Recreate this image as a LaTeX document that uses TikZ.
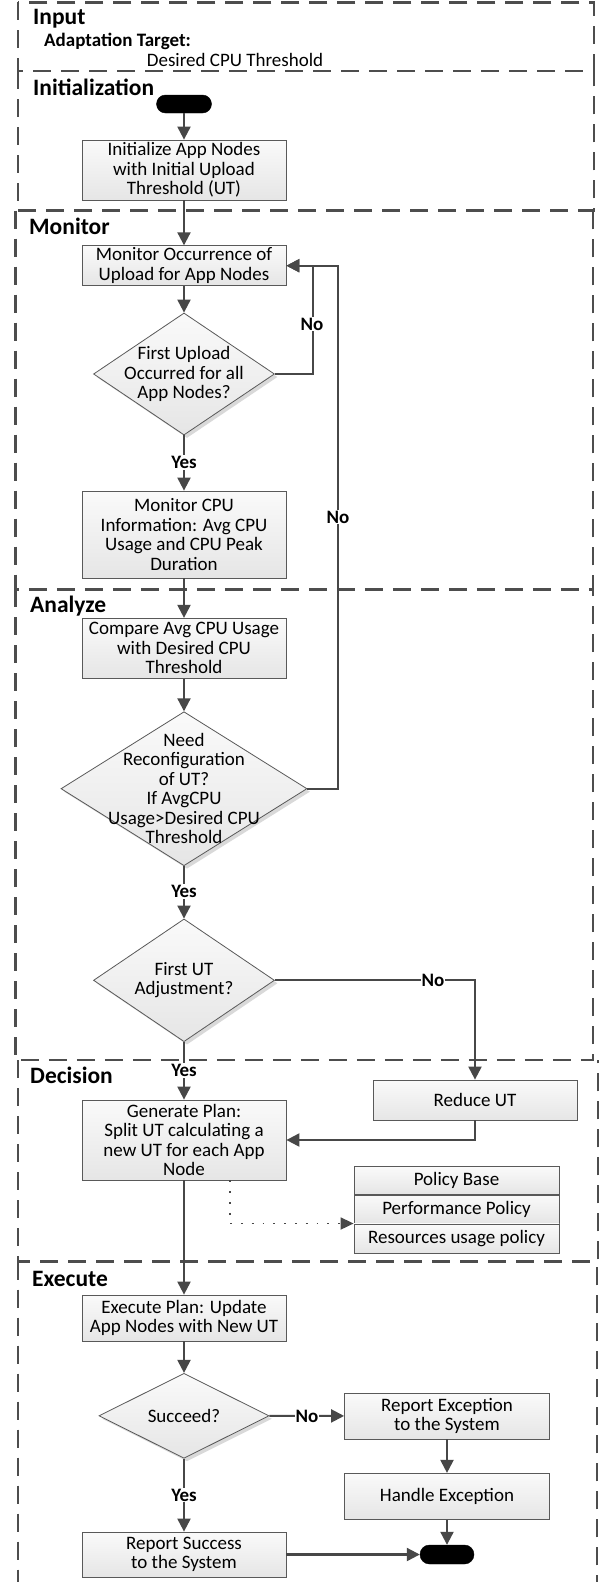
\documentclass[tikz,border=0pt]{standalone}
\usepackage{fontspec}
\setmainfont{Carlito}
\usetikzlibrary{arrows.meta,shapes.geometric,shapes.misc,shadows}
\definecolor{boxc}{HTML}{595959}
\definecolor{arrc}{HTML}{474747}
\definecolor{dashc}{HTML}{4d4d4d}
\newcommand\bodyf{\fontsize{19}{19.5}\selectfont}
\newcommand\bodyb{\fontsize{19}{19.5}\selectfont\bfseries}
\newcommand\titlef{\fontsize{23.5}{25}\selectfont\bfseries}
\begin{document}
\begin{tikzpicture}[x=1pt,y=-1pt,
  box/.style={draw=boxc, line width=0.8pt, top color=gray!4, bottom color=gray!20, inner sep=0pt, align=center, font=\bodyf, minimum width=204pt},
  dia/.style={diamond, draw=boxc, line width=0.8pt, top color=gray!4, bottom color=gray!20, inner sep=0pt, drop shadow={shadow xshift=3pt, shadow yshift=-3pt, fill=gray!30, opacity=1}},
  dtext/.style={font=\bodyf, align=center, inner sep=0pt},
  term/.style={rounded rectangle, fill=black, draw=black, inner sep=0pt, minimum width=55pt, minimum height=18pt},
  arr/.style={draw=arrc, line width=2.1pt, -{Triangle[length=13pt,width=13pt]}},
  lbl/.style={font=\bodyb, fill=white, inner sep=1pt},
  sect/.style={draw=dashc, line width=2.6pt, dash pattern=on 18pt off 10pt},
  stitle/.style={font=\titlef, anchor=base west, inner sep=0pt},
  dotarr/.style={draw=arrc, line width=1.8pt, dash pattern=on 1.8pt off 9pt, -{Triangle[length=13pt,width=12pt]}},
  pol/.style={draw=boxc, line width=0.8pt, top color=gray!4, bottom color=gray!20, inner sep=0pt, font=\bodyf, minimum width=205pt}
]
\useasboundingbox (0,0) rectangle (608,1582);
\fill[white] (0,0) rectangle (608,1582);

% sections (shared borders drawn once)
\draw[sect] (18,2.3) rectangle (594,71);
\draw[sect] (18,71) -- (18,210.7) -- (594,210.7) -- (594,71);
\draw[sect] (15.5,210.7) -- (15.5,589.3) -- (593,589.3) -- (593,210.7);
\draw[sect] (15.5,589.3) -- (15.5,1060) -- (593,1060) -- (593,589.3);
\draw[sect] (18,1060) -- (18,1261.7) -- (598,1261.7) -- (598,1060);
\draw[sect] (18,1261.7) -- (18,1600) -- (597,1600) -- (597,1261.7);

% section titles
\node[stitle] (tin) at (33,24.2) {Input};
\node[font=\bodyb, anchor=base west, inner sep=0pt] (tat) at (44,46) {Adaptation Target:};
\node[font=\bodyf, anchor=base west, inner sep=0pt] (tdc) at (146.7,66) {Desired CPU Threshold};
\node[stitle] (tinit) at (33,95.5) {Initialization};
\node[stitle] (tmon) at (29,234.5) {Monitor};
\node[stitle] (tana) at (30,612.5) {Analyze};
\node[stitle] (tdec) at (30,1083.5) {Decision};
\node[stitle] (texe) at (32,1286.8) {Execute};

% nodes
\node[term] (start) at (184,104) {};
\node[box, minimum height=60pt] (init) at (184,170) {Initialize App Nodes\\with Initial Upload\\Threshold (UT)};
\node[box, minimum height=40pt] (monocc) at (184,265.7) {Monitor Occurrence of\\Upload for App Nodes};
\node[dia, minimum width=181pt, minimum height=122pt] (d1) at (184,374) {};
\node[dtext] (d1t) at (d1) {First Upload\\Occurred for all\\App Nodes?};
\node[box, minimum height=87pt] (moncpu) at (184,534.5) {Monitor CPU\\Information: Avg CPU\\Usage and CPU Peak\\Duration};
\node[box, minimum height=60pt] (compare) at (184,648.3) {Compare Avg CPU Usage\\with Desired CPU\\Threshold};
\node[dia, minimum width=246pt, minimum height=154pt] (d2) at (184,788.7) {};
\node[dtext] (d2t) at (d2) {Need\\Reconfiguration\\of UT?\\If AvgCPU\\Usage>Desired CPU\\Threshold};
\node[dia, minimum width=181pt, minimum height=122.7pt] (d3) at (184,980.3) {};
\node[dtext] (d3t) at (d3) {First UT\\Adjustment?};
\node[box, minimum height=40pt] (reduce) at (475,1100) {Reduce UT};
\node[box, minimum height=80pt] (genplan) at (184,1140) {Generate Plan:\\Split UT calculating a\\new UT for each App\\Node};
\node[pol, minimum height=27.6pt] (pol1) at (456.5,1180.5) {Policy Base};
\node[pol, minimum height=28pt, anchor=north] (pol2) at (pol1.south) {Performance Policy};
\node[pol, minimum height=29.4pt, anchor=north] (pol3) at (pol2.south) {Resources usage policy};
\node[box, minimum height=46pt] (execplan) at (184,1318) {Execute Plan: Update\\App Nodes with New UT};
\node[dia, minimum width=170pt, minimum height=85pt] (d4) at (184,1415.8) {};
\node[dtext] (d4t) at (d4) {Succeed?};
\node[box, minimum width=205pt, minimum height=46pt] (repexc) at (447,1416) {Report Exception\\to the System};
\node[box, minimum width=205pt, minimum height=46pt] (handle) at (447,1496.3) {Handle Exception};
\node[term, minimum width=54pt, minimum height=19pt] (end) at (447,1554.5) {};
\node[box, minimum height=45pt] (repsucc) at (184,1554.5) {Report Success\\to the System};

% connectors
\draw[arr] (start) -- (init);
\draw[arr] (init) -- (monocc);
\draw[arr] (monocc) -- (d1);
\draw[arr] (d1.east) -- ++(38,0) |- (monocc.east);
\draw[arr] (d2.east) -- ++(31,0) |- (monocc.east);
\draw[arr] (d1) -- (moncpu);
\draw[arr] (moncpu) -- (compare);
\draw[arr] (compare) -- (d2);
\draw[arr] (d2) -- (d3);
\draw[arr] (d3.east) -| (reduce.north);
\draw[arr] (d3) -- (genplan);
\draw[arr] (reduce.south) |- (genplan.east);
\draw[dotarr] ([xshift=46pt]genplan.south) |- (pol2.south west);
\draw[arr] (genplan) -- (execplan);
\draw[arr] (execplan) -- (d4);
\draw[arr] (d4) -- (repexc);
\draw[arr] (d4) -- (repsucc);
\draw[arr] (repexc) -- (handle);
\draw[arr] (handle) -- (end);
\draw[arr] (repsucc) -- (end);

% labels
\node[lbl] (no1) at (312,324) {No};
\node[lbl] (no2) at (338,517) {No};
\node[lbl] (yes1) at (184,462.7) {Yes};
\node[lbl] (yes2) at (184,891.7) {Yes};
\node[lbl] (no3) at (433,980.3) {No};
\node[lbl] (yes3) at (184,1070.7) {Yes};
\node[lbl] (no4) at (307,1416) {No};
\node[lbl] (yes4) at (184,1495) {Yes};
\end{tikzpicture}
\end{document}
